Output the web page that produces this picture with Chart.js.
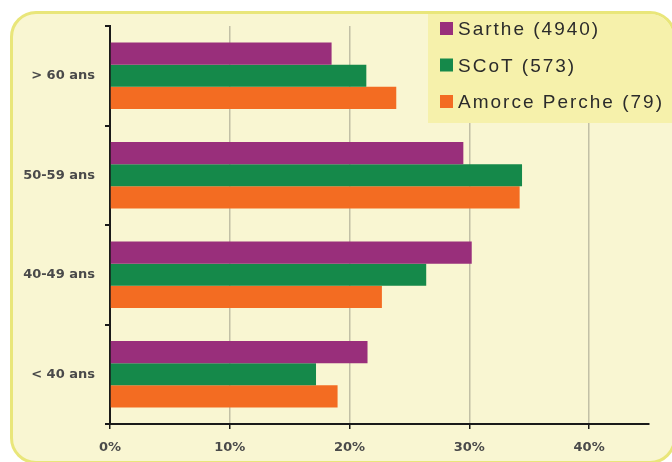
<!DOCTYPE html>
<html>
<head>
<meta charset="utf-8">
<script src="https://cdn.jsdelivr.net/npm/chart.js@4"></script>
<style>
  html, body { margin: 0; padding: 0; background: #ffffff; }
  #wrap { position: relative; width: 672px; height: 462px; overflow: hidden; }
  #panel {
    position: absolute; left: 10px; top: 11px; width: 660px; height: 447px;
    background: #f9f6d2; border: 3px solid #e9e67a; border-radius: 26px;
  }
  #chart { position: absolute; left: 0; top: 0; }
</style>
</head>
<body>
<div id="wrap">
  <div id="panel"></div>
  <canvas id="chart" width="672" height="462"></canvas>
</div>
<script>
// tranches d'âge et parts (%) par territoire
const categories = ['> 60 ans', '50-59 ans', '40-49 ans', '< 40 ans'];
const sarthe = [18.5, 29.5, 30.2, 21.5];
const scot = [21.4, 34.4, 26.4, 17.2];
const amorce = [23.9, 34.2, 22.7, 19.0];
const seriesNames = ['Sarthe (4940)', 'SCoT (573)', 'Amorce Perche (79)'];
const seriesColors = ['#992f7b', '#15894a', '#f36c22'];
const xTicks = [0, 10, 20, 30, 40];
const xTickLabels = ['0%', '10%', '20%', '30%', '40%'];

const labelFont = { family: 'DejaVu Sans', size: 13, weight: 'bold' };

// légende posée dans le coin haut droit, par-dessus la grille
const legendBox = {
  id: 'legendBox',
  afterDraw(chart) {
    const ctx = chart.ctx;
    const x0 = 428, y0 = 14, w = 245, h = 109;
    ctx.save();
    ctx.fillStyle = '#f6f1ab';
    ctx.beginPath();
    ctx.roundRect(x0, y0, w, h, [0, 23, 0, 0]);
    ctx.fill();
    ctx.font = '19px "Liberation Sans", Arial, sans-serif';
    ctx.letterSpacing = '2px';
    ctx.textBaseline = 'middle';
    chart.data.datasets.forEach((ds, i) => {
      const cy = 29 + i * 36.5;
      ctx.fillStyle = ds.backgroundColor;
      ctx.fillRect(440, cy - 7, 13, 13);
      ctx.fillStyle = '#2b2b2b';
      ctx.fillText(ds.label, 458, cy + 1);
    });
    ctx.restore();
  }
};

new Chart(document.getElementById('chart'), {
  type: 'bar',
  data: {
    labels: categories,
    datasets: [
      { label: seriesNames[0], data: sarthe, backgroundColor: seriesColors[0] },
      { label: seriesNames[1], data: scot, backgroundColor: seriesColors[1] },
      { label: seriesNames[2], data: amorce, backgroundColor: seriesColors[2] }
    ]
  },
  options: {
    indexAxis: 'y',
    responsive: false,
    animation: false,
    devicePixelRatio: 1,
    barPercentage: 1,
    categoryPercentage: 0.67,
    layout: { padding: { top: 26, right: 23, left: 0, bottom: 0 } },
    plugins: {
      legend: { display: false },
      tooltip: { enabled: false }
    },
    scales: {
      x: {
        min: 0,
        max: 45,
        afterFit: (axis) => { axis.height = 38; },
        afterBuildTicks: (axis) => { axis.ticks = xTicks.map(v => ({ value: v })); },
        ticks: {
          callback: (v, i) => xTickLabels[i],
          color: '#4a4a4a',
          font: labelFont,
          padding: 11,
          maxRotation: 0
        },
        grid: {
          color: (c) => (c.tick && c.tick.value === 0) ? 'rgba(0,0,0,0)' : 'rgba(150,148,130,0.55)',
          lineWidth: 1.5,
          tickColor: '#1a1a1a',
          tickLength: 5
        },
        border: { color: '#1a1a1a', width: 2 }
      },
      y: {
        afterFit: (axis) => { axis.width = 110; },
        ticks: {
          color: '#4a4a4a',
          font: labelFont,
          padding: 10
        },
        grid: {
          drawOnChartArea: false,
          tickColor: '#1a1a1a',
          tickLength: 5,
          lineWidth: 2
        },
        border: { color: '#1a1a1a', width: 2 }
      }
    }
  },
  plugins: [legendBox]
});
</script>
</body>
</html>
